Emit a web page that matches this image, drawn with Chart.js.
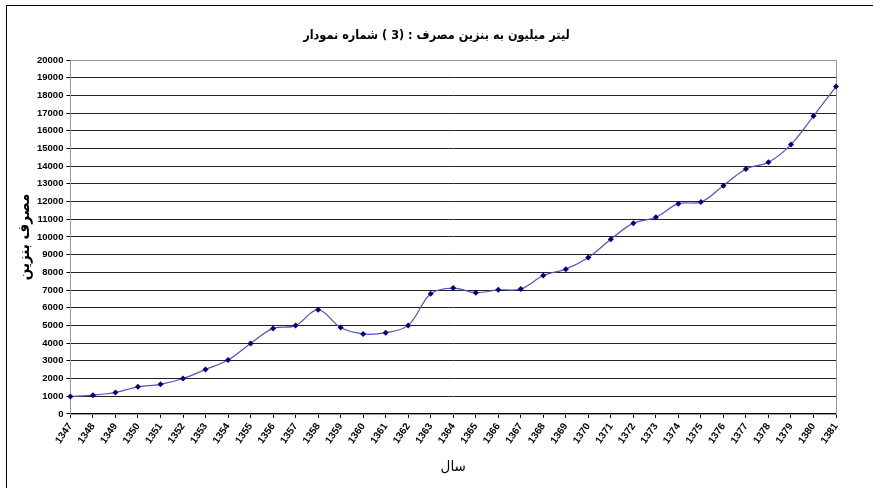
<!DOCTYPE html>
<html>
<head>
<meta charset="utf-8">
<script src="https://cdn.jsdelivr.net/npm/chart.js@4"></script>
<style>
  html, body { margin: 0; padding: 0; background: #fff; overflow: hidden; }
  #wrap { position: relative; width: 873px; height: 488px; }
  #frame { position: absolute; left: 6px; top: 5px; width: 900px; height: 520px; border: 1px solid #000; }
  canvas { position: absolute; left: 0; top: 0; }
  #title {
    position: absolute; left: 0; top: 26px; width: 873px;
    text-align: center; direction: ltr;
    font: bold 12.5px 'DejaVu Sans Condensed', 'DejaVu Sans', sans-serif;
    line-height: 17px; color: #000;
  }
  #title span { display: inline-block; margin: 0 2px; }
</style>
</head>
<body>
<div id="wrap">
  <div id="frame"></div>
  <canvas id="fuelChart" width="873" height="488"></canvas>
  <div id="title"></div>
</div>
<script>
const years = ["1347", "1348", "1349", "1350", "1351", "1352", "1353", "1354", "1355", "1356",
  "1357", "1358", "1359", "1360", "1361", "1362", "1363", "1364", "1365", "1366",
  "1367", "1368", "1369", "1370", "1371", "1372", "1373", "1374", "1375", "1376",
  "1377", "1378", "1379", "1380", "1381"]
// million litres
const consumption = [980, 1060, 1210, 1530, 1670, 2000, 2510, 3040, 3980, 4830,
  4990, 5890, 4880, 4520, 4590, 5000, 6790, 7110, 6850, 7010,
  7060, 7820, 8180, 8840, 9870, 10780, 11110, 11880, 11970, 12900,
  13840, 14220, 15220, 16830, 18500]

const yMin = 0
const yMax = 20000
const yStep = 1000

// the original prints the title words left to right, one box per word keeps that order
const titleWords = ["نمودار", "شماره", "( 3)", ":", "مصرف", "بنزین", "به", "میلیون", "لیتر"]
const yTitle = "مصرف بنزین"
const xTitle = "سال"

const titleEl = document.getElementById("title")
titleWords.forEach(w => {
  const s = document.createElement("span")
  s.textContent = w
  titleEl.appendChild(s)
})

const arabicFont = "'DejaVu Sans Condensed', 'DejaVu Sans', sans-serif"
const tickFont = "'Liberation Sans', Arial, sans-serif"

// gray box round the plot area (top and right show)
const plotBox = {
  id: "plotBox",
  beforeDatasetsDraw(chart) {
    const a = chart.chartArea
    const ctx = chart.ctx
    ctx.save()
    ctx.strokeStyle = "#999"
    ctx.lineWidth = 1
    ctx.strokeRect(Math.round(a.left) + 0.5, Math.round(a.top) + 0.5, Math.round(a.width), Math.round(a.height))
    ctx.restore()
  }
}

const fuelChart = new Chart(document.getElementById("fuelChart"), {
  type: "line",
  data: {
    labels: years,
    datasets: [{
      label: yTitle,
      data: consumption,
      borderColor: "#5252c0",
      borderWidth: 1.2,
      tension: 0.35,
      pointStyle: "rectRot",
      pointRadius: 3,
      pointBackgroundColor: "#000080",
      pointBorderColor: "#000080",
      pointBorderWidth: 0
    }]
  },
  options: {
    responsive: false,
    animation: false,
    layout: { padding: { left: 16, right: 37, top: 60, bottom: 12 } },
    plugins: {
      legend: { display: false },
      tooltip: { enabled: false },
      title: { display: false }
    },
    scales: {
      x: {
        type: "category",
        offset: false,
        border: { color: "#000", width: 1 },
        grid: {
          drawOnChartArea: false,
          drawTicks: true,
          tickLength: 4,
          tickColor: "#000"
        },
        ticks: {
          color: "#000",
          autoSkip: false,
          minRotation: 55,
          maxRotation: 55,
          padding: 3,
          font: { family: tickFont, size: 10, weight: "bold" }
        },
        title: {
          display: true,
          text: xTitle,
          color: "#000",
          font: { family: arabicFont, size: 15 },
          padding: { top: 9, bottom: 0 }
        }
      },
      y: {
        min: yMin,
        max: yMax,
        border: { color: "#000", width: 1 },
        grid: {
          color: "#222",
          lineWidth: 1,
          tickLength: 4,
          tickColor: "#000"
        },
        ticks: {
          stepSize: yStep,
          color: "#000",
          padding: 3,
          font: { family: tickFont, size: 9.5, weight: "bold" },
          callback: (value) => String(value)
        },
        title: {
          display: true,
          text: yTitle,
          color: "#000",
          font: { family: arabicFont, size: 15, weight: "bold" },
          padding: { top: 0, bottom: 0 }
        }
      }
    }
  },
  plugins: [plotBox]
});
</script>
</body>
</html>
